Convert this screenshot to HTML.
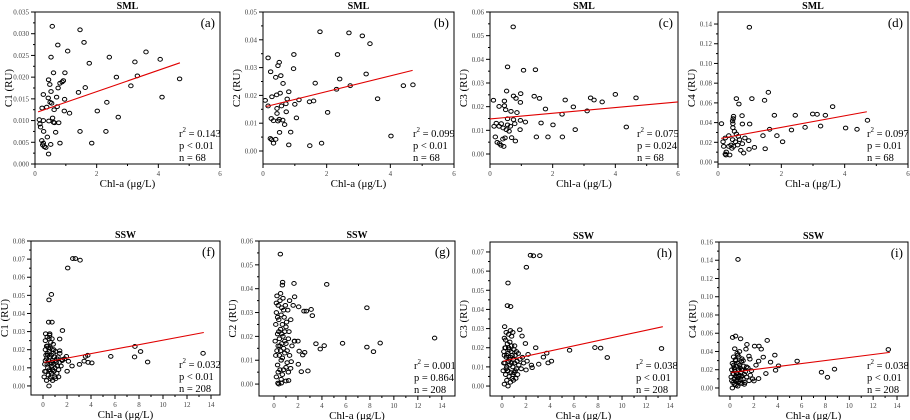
<!DOCTYPE html>
<html><head><meta charset="utf-8">
<style>
html,body{margin:0;padding:0;background:#fff;}
svg{display:block;font-family:"Liberation Serif","Times New Roman",Times,serif;}
svg text{font-family:"Liberation Serif","Times New Roman",Times,serif;}
</style></head>
<body>
<svg id="fig" width="910" height="420" viewBox="0 0 910 420" xmlns="http://www.w3.org/2000/svg"></svg>
<script>
// ---------- data ----------
const ptsA=[[0.56,0.0317],[1.46,0.0309],[1.59,0.028],[0.74,0.0274],[1.06,0.026],[0.52,0.0246],[1.76,0.0232],[2.41,0.0246],[3.6,0.0258],[3.24,0.0235],[4.06,0.0241],[0.6,0.021],[0.97,0.021],[2.64,0.02],[3.32,0.0203],[4.69,0.0196],[0.44,0.0194],[0.92,0.0192],[0.81,0.0186],[0.88,0.0189],[0.48,0.0183],[0.75,0.0175],[1.63,0.0176],[3.11,0.018],[0.52,0.0167],[1.41,0.0165],[0.27,0.016],[0.7,0.0154],[0.43,0.0152],[0.96,0.0149],[4.12,0.0154],[0.54,0.014],[2.33,0.0142],[0.23,0.0129],[0.38,0.0131],[0.72,0.0132],[0.62,0.0125],[0.95,0.0122],[2.02,0.0122],[1.12,0.0117],[2.7,0.0108],[0.14,0.0102],[0.27,0.01],[0.57,0.0106],[0.45,0.0099],[0.6,0.0096],[0.77,0.0095],[0.63,0.0095],[0.16,0.0092],[0.18,0.0085],[0.67,0.0073],[0.28,0.0075],[1.46,0.0075],[2.3,0.0075],[0.4,0.0062],[0.22,0.0054],[0.27,0.0048],[0.81,0.0048],[1.84,0.0048],[0.51,0.0045],[0.3,0.004],[0.25,0.0044],[0.35,0.0038],[0.44,0.0023],[0.49,0.0142]];
const ptsB=[[1.79,0.0429],[2.7,0.0425],[3.12,0.0414],[3.36,0.0386],[0.16,0.0335],[0.97,0.0347],[2.34,0.0347],[0.51,0.0319],[0.47,0.0307],[0.96,0.0296],[0.24,0.0285],[3.24,0.0277],[0.56,0.0271],[0.4,0.0265],[0.63,0.0243],[1.64,0.0244],[2.41,0.0259],[4.41,0.0235],[4.71,0.0238],[2.74,0.0235],[2.31,0.0222],[0.81,0.0213],[0.54,0.0208],[0.43,0.0202],[0.28,0.0195],[0.07,0.0182],[0.76,0.0187],[1.13,0.0184],[1.46,0.0177],[1.59,0.018],[3.6,0.0188],[0.72,0.017],[1.0,0.0168],[0.16,0.0162],[0.58,0.0162],[0.44,0.0153],[0.73,0.0141],[0.44,0.0135],[2.03,0.0139],[1.05,0.0119],[0.26,0.0117],[0.51,0.0114],[0.62,0.0111],[0.33,0.0109],[0.47,0.0108],[0.68,0.0095],[0.52,0.0067],[0.87,0.0068],[4.02,0.0054],[0.23,0.0045],[0.27,0.0041],[0.4,0.0042],[0.33,0.0028],[0.81,0.0022],[1.47,0.0019],[1.84,0.0028]];
const ptsC=[[0.74,0.0537],[0.56,0.0368],[1.07,0.0354],[1.45,0.0356],[0.53,0.0266],[0.98,0.0255],[0.75,0.0245],[0.83,0.0235],[1.41,0.0244],[1.58,0.0235],[0.11,0.0227],[0.46,0.0224],[0.97,0.0218],[2.4,0.0228],[3.21,0.0237],[3.32,0.0228],[3.58,0.022],[4.0,0.0252],[4.66,0.0237],[0.29,0.0201],[0.46,0.0204],[2.66,0.0199],[0.5,0.0187],[1.77,0.019],[0.67,0.018],[0.86,0.0175],[3.1,0.0182],[2.3,0.0168],[0.56,0.0149],[0.75,0.0145],[0.97,0.0142],[1.13,0.0135],[0.2,0.013],[0.36,0.0128],[0.79,0.0128],[1.63,0.0131],[0.56,0.0123],[0.13,0.0117],[0.29,0.0117],[0.65,0.0117],[2.01,0.0123],[0.42,0.011],[0.52,0.0103],[0.96,0.0103],[2.72,0.0103],[0.61,0.0096],[4.35,0.0114],[0.17,0.0072],[0.69,0.0069],[1.48,0.0072],[1.85,0.0072],[2.31,0.0072],[0.48,0.0068],[0.41,0.0063],[0.81,0.0055],[0.23,0.0049],[0.3,0.0044],[0.35,0.0037],[0.44,0.0032]];
const ptsD=[[0.99,0.1367],[1.59,0.0707],[0.58,0.0643],[1.07,0.0643],[1.47,0.0626],[0.66,0.0589],[3.62,0.0562],[0.49,0.0464],[0.76,0.047],[1.78,0.0474],[2.44,0.0474],[2.99,0.0487],[3.13,0.0484],[3.39,0.0474],[0.48,0.044],[0.46,0.0416],[0.11,0.0389],[0.47,0.0389],[0.77,0.0386],[1.0,0.0386],[0.47,0.0349],[1.63,0.0332],[2.75,0.0352],[3.24,0.0365],[4.03,0.0345],[4.39,0.0332],[4.72,0.0423],[2.32,0.0325],[0.52,0.0311],[0.58,0.0284],[0.34,0.0267],[1.42,0.0267],[1.86,0.0267],[0.64,0.026],[0.23,0.0244],[0.85,0.0244],[0.46,0.0227],[0.68,0.0227],[0.97,0.0217],[2.04,0.0206],[0.55,0.0206],[0.16,0.0206],[0.77,0.0186],[0.41,0.0173],[0.62,0.0173],[0.18,0.0159],[0.34,0.0159],[0.49,0.0159],[1.15,0.0149],[1.49,0.0135],[0.98,0.0129],[0.44,0.0139],[0.72,0.0119],[0.26,0.0102],[0.81,0.0091],[0.23,0.0081],[0.37,0.0071],[0.25,0.0071]];
const ptsF=[[2.48,0.0703],[2.7,0.0703],[3.09,0.0694],[2.06,0.0651],[0.7,0.0505],[0.5,0.0475],[0.75,0.0352],[0.47,0.0352],[1.62,0.0306],[1.39,0.0259],[0.56,0.0288],[0.22,0.0288],[7.66,0.0218],[8.13,0.019],[3.73,0.0169],[5.65,0.0163],[7.63,0.016],[13.34,0.018],[8.72,0.0132],[3.54,0.0163],[3.43,0.0137],[3.76,0.013],[4.07,0.0127],[3.04,0.0119],[2.42,0.011],[2.01,0.0081],[1.39,0.0194],[1.95,0.0163],[2.12,0.0136],[1.62,0.0145],
[0.1,0.005],[0.15,0.012],[0.2,0.02],[0.2,0.025],[0.25,0.008],[0.3,0.015],[0.3,0.003],[0.35,0.018],[0.35,0.027],[0.4,0.01],[0.4,0.022],[0.45,0.006],[0.45,0.014],[0.5,0.0],[0.5,0.019],[0.5,0.026],[0.55,0.009],[0.55,0.016],[0.6,0.004],[0.6,0.012],[0.6,0.021],[0.65,0.024],[0.7,0.007],[0.7,0.017],[0.75,0.011],[0.75,0.02],[0.8,0.014],[0.8,0.003],[0.85,0.018],[0.85,0.023],[0.9,0.008],[0.9,0.012],[0.95,0.016],[1.0,0.005],[1.0,0.01],[1.05,0.019],[1.1,0.013],[1.15,0.007],[1.2,0.011],[1.25,0.016],[1.3,0.009],[1.35,0.013],[1.4,0.018],[1.5,0.011],[1.6,0.014],[1.8,0.015],[0.15,0.008],[0.25,0.017],[0.35,0.012],[0.45,0.021],[0.55,0.028],[0.65,0.005],[0.7,0.013],[0.8,0.009],[0.9,0.02],[1.05,0.004],[1.15,0.015],[0.3,0.022],[0.2,0.014],[0.4,0.017],[0.6,0.008],[1.0,0.014],[1.3,0.005],[0.75,0.026]];
const ptsG=[[0.53,0.0545],[0.72,0.0427],[0.7,0.0415],[1.67,0.0422],[4.4,0.0418],[3.1,0.0313],[3.2,0.0287],[2.5,0.0306],[2.7,0.0306],[2.06,0.0324],[1.72,0.0366],[7.75,0.032],[3.5,0.0169],[3.86,0.0147],[4.19,0.0161],[5.72,0.0171],[7.75,0.0155],[8.3,0.0136],[8.86,0.0172],[13.4,0.0193],[2.56,0.0133],[2.1,0.0138],[2.4,0.0122],[2.03,0.0083],[2.28,0.0052],[2.83,0.0055],[1.44,0.0094],[1.72,0.018],[2.0,0.018],[1.39,0.0066],[1.22,0.0015],[1.0,0.0013],[0.33,0.0004],[0.61,0.0004],
[0.1,0.018],[0.15,0.025],[0.2,0.003],[0.2,0.03],[0.25,0.014],[0.25,0.037],[0.3,0.008],[0.3,0.021],[0.35,0.033],[0.35,0.016],[0.4,0.0],[0.4,0.027],[0.45,0.012],[0.45,0.019],[0.5,0.035],[0.5,0.006],[0.55,0.023],[0.55,0.014],[0.6,0.029],[0.6,0.002],[0.65,0.017],[0.65,0.032],[0.7,0.011],[0.7,0.025],[0.75,0.02],[0.75,0.036],[0.8,0.015],[0.8,0.006],[0.85,0.028],[0.9,0.013],[0.9,0.022],[0.95,0.033],[1.0,0.017],[1.0,0.007],[1.05,0.026],[1.1,0.014],[1.15,0.031],[1.2,0.005],[1.2,0.019],[1.3,0.035],[1.3,0.012],[1.4,0.027],[1.5,0.016],[1.6,0.033],[1.7,0.018],[0.15,0.012],[0.3,0.028],[0.4,0.022],[0.5,0.016],[0.6,0.01],[0.7,0.004],[0.8,0.031],[0.9,0.018],[1.0,0.024],[1.1,0.009],[1.25,0.022],[0.2,0.034],[0.35,0.005],[0.55,0.038],[0.65,0.021]];
const ptsH=[[2.37,0.0683],[2.62,0.068],[3.15,0.0681],[2.03,0.062],[0.5,0.0538],[0.45,0.042],[0.72,0.0415],[0.22,0.031],[1.48,0.0294],[1.67,0.0261],[1.95,0.0222],[2.81,0.02],[5.63,0.0187],[7.74,0.0201],[8.22,0.0198],[8.77,0.0149],[13.29,0.0196],[3.45,0.0151],[3.73,0.0172],[4.12,0.013],[3.84,0.0121],[3.06,0.0114],[2.45,0.0109],[2.51,0.0096],[2.0,0.0084],[2.09,0.013],[2.17,0.0165],
[0.1,0.008],[0.15,0.018],[0.2,0.025],[0.2,0.001],[0.25,0.012],[0.3,0.02],[0.3,0.006],[0.35,0.028],[0.35,0.015],[0.4,0.003],[0.4,0.01],[0.45,0.022],[0.5,0.017],[0.5,0.0],[0.5,0.008],[0.55,0.013],[0.55,0.027],[0.6,0.019],[0.6,0.005],[0.65,0.011],[0.65,0.023],[0.7,0.015],[0.7,0.029],[0.75,0.007],[0.75,0.018],[0.8,0.012],[0.8,0.021],[0.85,0.004],[0.85,0.016],[0.9,0.01],[0.9,0.028],[0.95,0.014],[1.0,0.007],[1.0,0.019],[1.05,0.012],[1.1,0.016],[1.15,0.004],[1.2,0.009],[1.25,0.013],[1.3,0.006],[1.35,0.017],[1.4,0.011],[1.5,0.014],[1.6,0.009],[1.7,0.015],[1.8,0.012],[0.15,0.012],[0.25,0.02],[0.3,0.024],[0.4,0.016],[0.45,0.008],[0.6,0.014],[0.7,0.002],[0.8,0.026],[0.9,0.006],[1.05,0.021],[1.2,0.018],[0.2,0.016],[0.55,0.02],[0.35,0.009],[0.95,0.003],[1.1,0.008]];
const ptsI=[[0.67,0.1409],[0.22,0.0554],[0.47,0.0569],[0.89,0.0539],[1.42,0.0477],[2.06,0.0459],[2.43,0.0459],[2.62,0.0426],[3.12,0.0521],[3.4,0.0283],[3.76,0.036],[3.82,0.0194],[4.07,0.0242],[5.63,0.0294],[2.79,0.0338],[2.4,0.0294],[2.18,0.025],[1.59,0.0349],[1.67,0.0316],[1.39,0.0231],[3.01,0.0158],[2.4,0.0103],[2.01,0.0077],[7.67,0.0172],[8.17,0.0117],[8.76,0.0206],[13.27,0.0422],[1.34,0.0426],
[0.1,0.012],[0.15,0.02],[0.2,0.0],[0.2,0.027],[0.25,0.006],[0.3,0.015],[0.3,0.034],[0.35,0.01],[0.35,0.022],[0.4,0.043],[0.4,0.004],[0.45,0.018],[0.5,0.013],[0.5,0.03],[0.55,0.008],[0.55,0.024],[0.6,0.038],[0.6,0.016],[0.65,0.002],[0.65,0.011],[0.7,0.027],[0.7,0.02],[0.75,0.007],[0.75,0.034],[0.8,0.014],[0.8,0.04],[0.85,0.022],[0.9,0.009],[0.9,0.017],[0.95,0.029],[1.0,0.005],[1.0,0.013],[1.05,0.02],[1.1,0.01],[1.15,0.024],[1.2,0.015],[1.25,0.006],[1.3,0.018],[1.4,0.012],[1.5,0.022],[1.6,0.008],[1.7,0.014],[1.8,0.019],[1.9,0.01],[0.15,0.008],[0.25,0.016],[0.3,0.025],[0.45,0.031],[0.5,0.003],[0.6,0.009],[0.7,0.013],[0.85,0.005],[0.95,0.02],[1.1,0.03],[1.2,0.004],[0.4,0.02],[0.55,0.016],[0.65,0.036],[0.8,0.025],[1.0,0.032]];
// regression lines [x1,y1,x2,y2] (null = none)
const fitA=[0.1,0.012,4.7,0.0233];
const fitB=[0.1,0.016,4.7,0.029];
const fitC=[0,0.0148,6,0.022];
const fitD=[0.1,0.024,4.7,0.051];
const fitF=[0.1,0.013,13.4,0.0295];
const fitG=null;
const fitH=[0.1,0.013,13.4,0.031];
const fitI=[0.1,0.017,13.4,0.039];
// statistics
const r2Vals=["0.143","0.099","0.075","0.097","0.032","0.001","0.038","0.038"];
const pTexts=["p < 0.01","p < 0.01","p = 0.024","p = 0.01","p < 0.01","p = 0.864","p < 0.01","p < 0.01"];
const nTexts=["n = 68","n = 68","n = 68","n = 68","n = 208","n = 208","n = 208","n = 208"];
const yLabels=["C1 (RU)","C2 (RU)","C3 (RU)","C4 (RU)","C1 (RU)","C2 (RU)","C3 (RU)","C4 (RU)"];
const titles=["SML","SML","SML","SML","SSW","SSW","SSW","SSW"];
const letters=["(a)","(b)","(c)","(d)","(f)","(g)","(h)","(i)"];
const topXTicks=[0,2,4,6];
const botXTicks=[0,2,4,6,8,10,12,14];
const yTicksA=[0,0.005,0.01,0.015,0.02,0.025,0.03,0.035];
const yTicksB=[0,0.01,0.02,0.03,0.04,0.05];
const yTicksC=[0,0.01,0.02,0.03,0.04,0.05,0.06];
const yTicksD=[0,0.02,0.04,0.06,0.08,0.1,0.12,0.14];
const yTicksF=[0,0.01,0.02,0.03,0.04,0.05,0.06,0.07,0.08];
const yTicksG=[0,0.01,0.02,0.03,0.04,0.05,0.06];
const yTicksH=[0,0.01,0.02,0.03,0.04,0.05,0.06,0.07];
const yTicksI=[0,0.02,0.04,0.06,0.08,0.1,0.12,0.14,0.16];

// ---------- layout ----------
const panels=[
 {id:'a',pts:ptsA,fit:fitA,xt:topXTicks,yt:yTicksA,dec:3,box:[35,220,12,164],xd:[0,6],yd:[0,0.035]},
 {id:'b',pts:ptsB,fit:fitB,xt:topXTicks,yt:yTicksB,dec:2,box:[263,454,12,164],xd:[0,6],yd:[-0.00468,0.05]},
 {id:'c',pts:ptsC,fit:fitC,xt:topXTicks,yt:yTicksC,dec:2,box:[490,678,12,164],xd:[0,6],yd:[-0.00423,0.06]},
 {id:'d',pts:ptsD,fit:fitD,xt:topXTicks,yt:yTicksD,dec:2,box:[718,908,12,164],xd:[0,6],yd:[-0.002,0.1522]},
 {id:'f',pts:ptsF,fit:fitF,xt:botXTicks,yt:yTicksF,dec:2,box:[31,220,241,395],xd:[-1.0,14.75],yd:[-0.005,0.08]},
 {id:'g',pts:ptsG,fit:fitG,xt:botXTicks,yt:yTicksG,dec:2,box:[259,455,241,396],xd:[-1.25,15.1],yd:[-0.005,0.06]},
 {id:'h',pts:ptsH,fit:fitH,xt:botXTicks,yt:yTicksH,dec:2,box:[490,677,242,396],xd:[-1.0,14.58],yd:[-0.0052,0.0752]},
 {id:'i',pts:ptsI,fit:fitI,xt:botXTicks,yt:yTicksI,dec:2,box:[719,908,242,396],xd:[-0.92,14.92],yd:[-0.0088,0.16]}
];
const NS="http://www.w3.org/2000/svg";
const FONT='"Liberation Serif","Times New Roman",Times,serif';
const svg=document.getElementById('fig');
function mk(tag,attrs,parent){const e=document.createElementNS(NS,tag);for(const k in attrs)e.setAttribute(k,attrs[k]);if(tag==='text')e.setAttribute('font-family',FONT);(parent||svg).appendChild(e);return e;}

panels.forEach((p,idx)=>{
  const [L,R,T,B]=p.box;
  const sx=v=>L+(v-p.xd[0])/(p.xd[1]-p.xd[0])*(R-L);
  const sy=v=>B-(v-p.yd[0])/(p.yd[1]-p.yd[0])*(B-T);
  const g=mk('g',{});
  
  
  const fr=mk('rect',{x:L,y:T,width:R-L,height:B-T,fill:'none',stroke:'#000','stroke-width':1},g);
  
  
  const ys=p.yt[1]-p.yt[0];
  p.yt.forEach((v,i)=>{
    const y=sy(v);
    const tk=mk('line',{x1:L-4,x2:L,y1:y,y2:y,stroke:'#000','stroke-width':1},g);
    
    
    const t=mk('text',{x:L-6,y:y+2.5,'font-size':7,'text-anchor':'end',fill:'#444'},g);
    t.textContent=v.toFixed(p.dec);
    
    
    if(i<p.yt.length-1){const ym=sy(v+ys/2);mk('line',{x1:L-2,x2:L,y1:ym,y2:ym,stroke:'#000','stroke-width':1},g);}
  });
  const xs=p.xt[1]-p.xt[0];
  p.xt.forEach((v,i)=>{
    const x=sx(v);
    const tk=mk('line',{x1:x,x2:x,y1:B,y2:B+4,stroke:'#000','stroke-width':1},g);
    
    
    const t=mk('text',{x:x,y:B+12,'font-size':7,'text-anchor':'middle',fill:'#444'},g);
    t.textContent=String(v);
    
    
    if(i<p.xt.length-1){const xm=sx(v+xs/2);mk('line',{x1:xm,x2:xm,y1:B,y2:B+2,stroke:'#000','stroke-width':1},g);}
  });
  p.pts.forEach(pt=>{
    const c=mk('ellipse',{cx:sx(pt[0]),cy:sy(pt[1]),rx:2.2,ry:1.9,fill:'none',stroke:'#000','stroke-width':1},g);
    
    
  });
  if(p.fit){
    const ln=mk('line',{x1:sx(p.fit[0]),y1:sy(p.fit[1]),x2:sx(p.fit[2]),y2:sy(p.fit[3]),stroke:'#e00000','stroke-width':1.1},g);
    
    
  }
  const tt=mk('text',{x:(L+R)/2,y:T-3,'font-size':10,'font-weight':'bold','text-anchor':'middle'},g);
  tt.textContent=titles[idx];
  
  
  const lt=mk('text',{x:R-5,y:T+15,'font-size':13,'text-anchor':'end'},g);
  lt.textContent=letters[idx];
  
  
  const sxp=R-41;
  const r2=mk('text',{x:sxp,y:B-27,'font-size':10.5},g);
  
  
  r2.appendChild(document.createTextNode('r'));
  const sup=mk('tspan',{dy:-5,'font-size':7},r2);sup.textContent='2';
  const rest=mk('tspan',{dy:5},r2);rest.textContent=' = '+r2Vals[idx];
  const pt=mk('text',{x:sxp,y:B-15,'font-size':10.5},g);
  pt.textContent=pTexts[idx];
  
  
  const nt=mk('text',{x:sxp,y:B-3,'font-size':10.5},g);
  nt.textContent=nTexts[idx];
  
  
  const xl=mk('text',{x:(L+R)/2,y:B+23,'font-size':11,'text-anchor':'middle'},g);
  xl.textContent='Chl-a (\u03bcg/L)';
  
  
  const cy=(T+B)/2, cx=L-27;
  const yl=mk('text',{x:cx,y:cy,'font-size':11,'text-anchor':'middle',transform:`rotate(-90 ${cx} ${cy})`,dy:4},g);
  yl.textContent=yLabels[idx];
  
  
});
</script>
</body></html>
